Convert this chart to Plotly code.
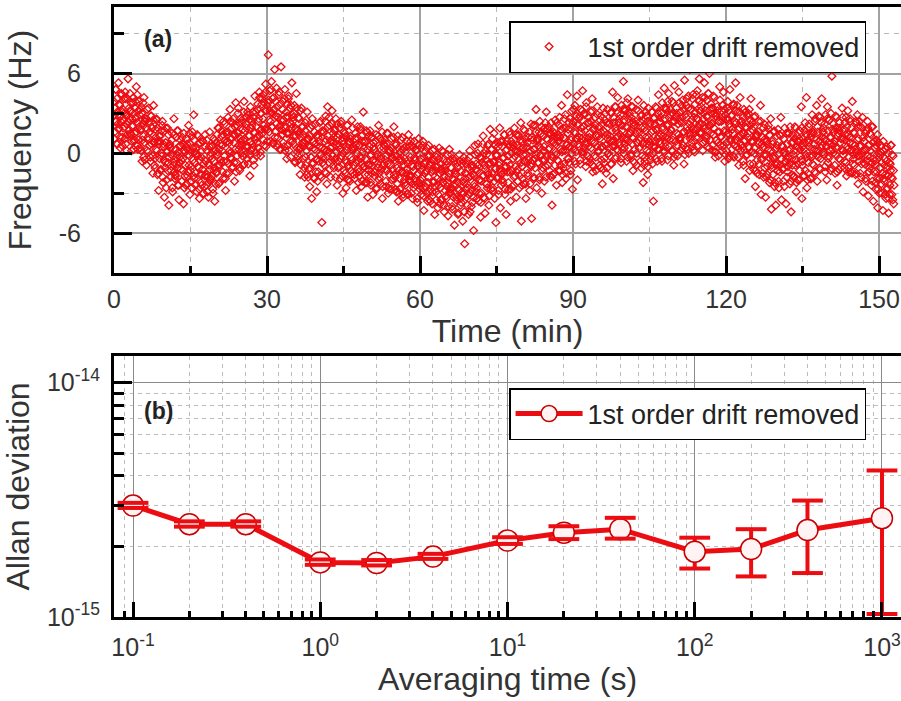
import plotly.graph_objects as go

# ---------------- Panel (a): frequency record ----------------
# Readings every 3.75 s (16 per minute); stored as two interleaved sets of 8 per minute.
sample_interval_min = 0.125
set_b_offset_min = 0.0625

freq_a_0_29 = [
    3.9, 1.6, 2.4, 4.8, 0.7, 3.1, 2.2, 5.3,
    1.9, 3.6, 0.4, 2.8, 4.4, 1.2, 3.3, 2.5,
    3.0, 1.1, 4.1, 2.2, 0.2, 2.9, 5.6, 1.7,
    2.6, 4.5, 1.4, 3.2, 0.9, 2.0, 3.8, 0.3,
    1.5, 3.4, 2.7, 5.0, 0.6, 2.3, 1.0, 3.9,
    2.9, 0.4, 1.7, 3.5, -0.6, 2.2, 1.3, 4.2,
    0.8, 2.6, 1.9, -0.9, 3.3, 1.2, 0.1, 2.4,
    1.6, -0.3, 2.8, 0.7, 1.9, -1.5, 3.6, 0.9,
    -0.4, 1.8, 0.3, 2.5, -1.6, 0.9, -2.8, 1.3,
    0.9, -1.3, 1.7, -0.2, 2.4, -2.2, 0.5, -3.3,
    -1.1, 0.8, -2.6, 0.2, 1.9, -0.7, -3.9, 0.6,
    0.4, -1.8, -0.1, 1.5, -2.9, -0.9, 2.6, -1.4,
    -1.6, 0.3, -0.8, 1.7, -2.4, 0.1, -3.5, -0.3,
    0.6, -1.2, -2.1, 1.2, -0.4, -3.8, 0.2, -1.7,
    -0.9, 1.1, -2.3, 0.3, -1.4, 2.1, -0.2, -3.1,
    0.7, -1.0, -2.6, 1.6, -0.5, 2.9, -1.9, 0.1,
    -1.5, 0.4, -2.9, -0.2, 1.3, -1.1, -3.4, 0.8,
    -2.2, -0.3, -1.6, 0.9, -3.0, -0.8, -2.5, 1.4,
    -0.6, -2.4, 0.2, -1.8, -3.3, -0.9, 1.6, -2.0,
    -1.9, 0.5, -0.4, -2.7, 1.1, -1.3, -3.6, 0.2,
    0.8, -1.4, -0.1, 1.9, -2.3, 0.3, -0.9, 2.5,
    -0.7, 1.3, 0.6, -1.9, 2.4, -0.2, 1.0, -2.8,
    1.6, -0.6, 0.9, 2.7, -1.5, 0.2, 3.3, -0.3,
    0.1, 1.9, -1.0, 2.6, 0.8, -2.1, 1.4, 3.8,
    2.1, -0.2, 1.5, 3.4, 0.3, -1.3, 2.6, 0.9,
    0.6, 2.5, 1.8, -0.9, 3.9, 1.1, -0.1, 2.2,
    1.9, -0.4, 2.9, 0.5, 1.3, -1.7, 3.5, 0.2,
    2.4, 0.7, 3.1, -0.5, 1.6, 4.3, 0.1, 2.0,
    1.2, 3.3, 0.4, 2.6, 4.6, 1.7, -0.2, 3.0,
    3.7, 1.5, 4.4, 2.1, 0.6, 3.2, 5.2, 1.9,
]
freq_a_30_59 = [
    3.6, 1.8, 7.4, 2.5, 4.7, 0.9, 3.1, 5.4,
    2.0, 4.1, 0.7, 3.3, 6.3, 1.6, 2.8, 4.9,
    3.5, 1.2, 2.7, 4.6, 0.3, 2.1, 6.5, 1.8,
    1.4, 3.9, 2.5, 0.5, 4.8, 1.9, 3.1, -0.4,
    2.8, 0.6, 4.3, 1.5, 3.4, -0.3, 2.2, 5.3,
    0.9, 2.7, 1.3, 3.6, -0.7, 1.9, 4.5, 0.4,
    1.7, -0.5, 2.6, 0.3, -1.6, 1.2, 3.4, 0.6,
    -0.4, 1.4, 0.8, -1.8, 2.3, -0.9, 0.2, 3.1,
    1.0, -1.2, 0.5, -2.5, 1.9, -0.3, -3.4, 2.6,
    -0.8, 0.9, -1.9, 0.3, 2.2, -0.5, -2.9, 1.4,
    1.2, -0.6, 0.5, -1.7, 2.4, -0.1, -5.2, 1.7,
    -0.3, 1.6, 0.9, -1.4, 2.8, 0.2, -2.3, 3.5,
    1.3, -0.7, 2.1, 0.4, -1.8, 1.0, 3.2, -0.2,
    0.8, -1.1, 1.7, -0.4, 2.6, 0.1, -2.4, 1.2,
    -0.6, 1.4, 0.3, -1.9, 2.2, -0.2, 0.9, -3.0,
    0.7, -1.3, 1.5, -0.5, -2.6, 0.2, 2.1, -1.0,
    -0.9, 0.8, -2.1, 1.3, -0.3, 2.5, -1.5, 0.4,
    0.5, -1.6, 1.1, -0.7, -2.8, 0.0, 2.0, -1.2,
    -1.4, 0.6, -0.2, 1.8, -2.5, 0.9, -0.8, 3.1,
    0.4, -1.0, -2.2, 0.9, -0.5, 1.6, -3.3, -1.6,
    -1.3, 0.5, -0.2, -2.4, 1.2, -0.9, -3.1, 0.8,
    0.3, -1.7, -0.6, 1.4, -2.6, -0.1, -1.1, 2.1,
    -1.5, 0.4, -2.3, -0.4, 1.0, -3.4, -0.9, 0.7,
    0.6, -1.2, -0.2, -2.5, 1.5, -0.8, -3.0, 0.1,
    -1.6, 0.2, -0.9, 1.1, -2.7, -0.3, -1.9, 2.0,
    -0.2, -1.8, 0.6, -2.9, -1.1, 1.3, -3.6, -0.5,
    -1.9, 0.1, -2.6, -0.6, 1.2, -1.4, -3.3, 0.4,
    -0.4, -2.2, 0.5, -1.5, -3.1, -0.8, 1.4, -2.0,
    -2.1, -0.3, -1.7, 0.6, -3.4, -1.0, -2.6, 0.9,
    -0.5, -2.4, 0.3, -1.6, -3.7, -0.9, 1.1, -2.2,
]
freq_a_60_89 = [
    -2.0, -0.4, -3.1, -1.2, 0.6, -2.6, -4.3, -0.8,
    -0.7, -2.5, -1.3, 0.4, -3.6, -1.8, -0.2, -2.9,
    -2.7, -0.9, -1.4, -3.8, 0.2, -2.2, -0.5, -4.6,
    -1.0, -2.9, -0.3, -1.9, -4.1, -2.4, 0.4, -1.5,
    -2.6, -0.8, -3.5, -1.4, 0.1, -2.2, -4.4, -1.1,
    -1.3, -3.2, -0.6, -2.5, -4.7, -1.8, 0.3, -2.9,
    -3.0, -1.1, -2.6, -4.2, -0.4, -2.0, -5.4, -1.5,
    -1.6, -3.5, -2.1, -0.7, -4.5, -2.8, -0.1, -3.3,
    -3.4, -1.4, -2.9, -5.1, -0.6, -2.2, -6.8, -1.9,
    -1.5, -3.3, -0.5, -2.6, -4.6, -1.8, 0.2, -3.0,
    -2.8, -0.9, -3.7, -1.6, -5.8, -2.3, 0.6, -1.2,
    -0.8, -2.6, -1.3, 0.7, -3.6, -2.0, -0.3, -4.8,
    -2.1, -0.4, -1.7, 1.3, -3.3, -0.9, -4.5, 0.2,
    -0.5, -2.3, 0.6, -1.6, -3.9, -0.8, 1.8, -2.7,
    -1.8, 0.3, -2.6, -0.6, 1.5, -3.4, -1.2, -5.2,
    -0.2, -1.9, 0.8, -2.8, -0.9, 1.9, -4.1, -1.4,
    -1.6, 0.5, -2.2, -0.3, 1.4, -3.1, -1.0, -4.6,
    0.3, -1.4, -0.2, -2.7, 1.6, -0.9, -3.6, 0.9,
    -1.3, 0.7, -0.4, -2.4, 1.9, -1.7, 0.2, -3.3,
    0.6, -1.2, 1.4, -0.5, -2.6, 0.1, 2.3, -5.1,
    -1.0, 0.9, -0.1, -2.3, 1.7, -0.6, -3.4, 0.4,
    0.5, -1.5, 1.2, -0.3, -2.8, -0.9, 2.2, -4.9,
    -0.8, 1.0, 0.3, -1.9, 2.1, -0.4, 3.3, -2.6,
    1.1, -0.7, 0.6, -1.8, 2.4, -0.2, 1.5, -3.0,
    -0.5, 1.3, 0.2, -2.1, 1.9, -1.0, 3.1, -0.3,
    1.0, -0.9, 2.0, 0.4, -1.7, 1.5, -0.2, -3.9,
    -0.3, 1.6, 0.8, -1.5, 2.5, 0.1, -2.4, 1.2,
    1.4, -0.6, 0.9, 2.7, -1.3, 0.3, 3.6, -2.2,
    0.2, 1.9, -0.8, 1.1, 2.9, -1.9, 0.6, 4.4,
    1.5, -0.4, 2.3, 0.5, -1.6, 1.0, 3.2, -2.7,
]
freq_a_90_119 = [
    2.4, 0.3, 1.6, 3.6, -0.8, 1.1, 4.3, -2.0,
    0.7, 2.6, 1.2, -0.5, 3.3, 1.9, 0.1, 4.7,
    2.0, 0.4, 2.9, 1.1, -1.0, 3.8, 0.8, -0.2,
    0.5, 2.3, 1.5, -0.7, 3.1, 0.9, 4.1, -1.4,
    1.8, -0.2, 0.8, 2.7, -1.3, 1.3, 3.5, 0.1,
    0.2, 2.0, 1.1, -1.1, 2.8, 0.5, -2.3, 3.4,
    1.7, -0.4, 2.5, 0.6, -1.5, 1.4, 3.3, 0.0,
    0.4, 2.2, 1.3, -0.8, 3.0, 0.9, 4.6, -1.9,
    2.3, 0.6, 1.9, 3.5, -0.3, 1.2, 4.2, 0.2,
    0.8, 2.6, 1.4, -0.4, 3.6, 2.1, 0.3, 5.4,
    2.5, 0.7, 3.2, 1.1, -0.6, 2.0, 4.1, 0.4,
    0.9, 2.8, 1.6, -0.2, 3.5, 1.2, -1.3, 2.3,
    2.1, 0.3, 1.5, 3.3, -0.9, 0.8, 4.0, 1.0,
    0.4, 2.4, 1.1, -1.1, 2.9, 0.7, -2.2, 3.6,
    1.9, -0.3, 1.2, 2.8, 0.2, -1.6, 3.4, 0.9,
    0.6, 2.2, -0.5, 1.6, 3.1, 0.0, -3.6, 2.6,
    2.2, 0.5, 1.8, 3.4, -0.6, 1.1, 4.4, 0.3,
    0.9, 2.7, 1.4, -0.4, 3.8, 2.0, 0.2, 4.9,
    2.6, 0.8, 3.3, 1.3, -0.5, 2.1, 4.5, 0.5,
    1.0, 2.9, 1.7, 3.9, 0.2, 2.4, -0.9, 5.1,
    2.7, 0.9, 3.4, 1.5, -0.2, 2.2, 4.6, 1.1,
    1.2, 3.1, 2.3, 0.4, 4.0, 1.6, -0.8, 5.5,
    2.9, 1.0, 3.6, 2.0, 0.3, 4.3, 1.5, 6.3,
    1.4, 3.3, 2.5, 0.5, 4.4, 1.8, 3.0, 0.1,
    3.1, 1.2, 2.6, 4.7, 0.6, 2.0, 5.6, 1.5,
    1.6, 3.5, 2.2, 4.2, 0.8, 3.0, 5.3, 1.9,
    3.2, 1.3, 2.8, 0.5, 4.5, 2.1, 6.0, 1.0,
    1.5, 3.4, 2.3, 0.2, 4.3, 1.9, 3.0, -0.3,
    2.8, 1.0, 3.5, 1.6, -0.2, 2.4, 5.0, 0.6,
    1.3, 3.2, 0.5, 2.5, 4.6, 1.7, -0.6, 2.9,
]
freq_a_120_152 = [
    2.6, 0.8, 3.4, 1.5, -0.4, 2.2, 4.8, 1.1,
    1.0, 2.9, 1.8, -0.2, 3.7, 0.6, 2.4, 5.3,
    2.3, 0.5, 3.1, 1.2, -0.9, 1.9, 4.2, 0.2,
    0.6, 2.4, 1.5, -0.6, 3.3, 0.9, -1.9, 2.0,
    1.9, -0.1, 1.2, 3.0, 0.4, -1.3, 2.5, 4.1,
    0.1, 1.8, 0.9, -1.2, 2.7, 0.4, -2.5, 1.3,
    1.3, -0.5, 0.7, 2.4, -1.6, 0.2, 3.6, -3.1,
    -0.5, 1.2, 0.4, -1.8, 2.2, -0.2, -3.3, 1.0,
    0.9, -1.0, 0.3, 1.8, -2.2, -0.4, 2.6, -4.2,
    -1.1, 0.7, -0.3, 1.6, -2.5, -0.8, -3.9, 0.4,
    0.6, -1.3, -0.1, -2.6, 1.4, -0.9, 2.7, -3.5,
    -1.2, 0.5, -2.1, 0.1, 1.9, -0.7, -3.8, -0.4,
    0.7, -1.0, -0.3, 1.5, -2.3, 0.3, -4.4, -1.6,
    -0.9, 0.8, -1.8, 0.2, 2.0, -0.5, -2.9, 1.3,
    0.9, -0.8, 0.4, -2.0, 1.7, -0.2, 3.5, -3.4,
    -0.6, 1.1, 0.3, -1.7, 2.3, -0.1, 4.2, -2.6,
    1.0, -0.7, 2.0, 0.5, -1.9, 1.3, -0.3, 2.9,
    -0.2, 1.5, 0.7, -1.4, 2.6, 0.2, 3.6, -2.1,
    1.6, -0.3, 0.9, 2.7, -1.2, 0.4, 4.1, 1.2,
    0.1, 1.9, 1.1, -1.0, 2.9, 0.6, -2.0, 3.5,
    1.7, -0.2, 2.5, 0.7, -1.3, 1.2, 5.8, 0.3,
    0.0, 1.6, 0.9, -1.5, 2.8, 0.4, -2.4, 1.9,
    1.5, -0.4, 2.3, 0.8, -1.1, 1.1, 3.4, 0.2,
    0.2, 1.8, -0.6, 1.0, 2.7, -1.7, 0.5, 3.2,
    1.4, -0.3, 0.8, 2.4, -1.4, 0.3, 3.9, -0.8,
    -0.1, 1.5, 0.6, -1.6, 2.3, 0.0, 2.9, -2.3,
    1.1, -0.6, 0.5, 2.0, -1.8, -0.1, 2.7, -2.9,
    -0.7, 0.9, 0.2, -1.9, 1.7, -0.5, 2.4, -3.2,
    0.6, -1.1, -0.3, 1.4, -2.4, -0.7, 2.0, -3.6,
    -1.4, 0.4, -0.8, -2.7, 1.0, -1.9, -4.1, 0.8,
    -0.3, -1.9, -1.1, 0.6, -3.0, -1.5, -4.3, 0.2,
    -2.1, -0.4, -1.6, -3.4, 0.5, -2.6, -1.0, -4.5,
    -0.7, -2.4, -1.3, 0.6, -3.1, -1.9, -0.2, -3.8,
]

freq_b_0_29 = [
    1.1, 3.4, 4.8, 2.4, 4.1, 0.7, 2.9, 1.8,
    3.7, 1.2, 2.4, 4.5, 0.6, 3.1, 1.9, 4.1,
    2.0, 4.6, 0.7, 2.8, 1.4, 4.1, 2.4, 3.4,
    3.2, 1.5, 3.8, 0.2, 2.6, 2.1, 4.2, 0.9,
    1.0, 3.9, 2.6, 1.6, 4.4, 0.3, 3.2, 2.0,
    3.3, 1.8, 0.2, 3.0, 1.0, 3.8, -0.3, 2.4,
    -0.5, 2.4, 2.6, 0.2, 1.8, 1.0, 3.4, 0.6,
    1.6, -0.6, 2.8, 1.9, -0.2, 2.5, 0.8, -0.9,
    -1.1, 1.2, 2.6, 0.2, 1.9, -1.5, 0.7, -0.4,
    1.3, -1.2, 0.0, 2.1, -1.8, 0.7, -0.5, 1.7,
    -0.7, 1.9, -2.0, 0.1, -1.3, 1.4, -0.3, 0.7,
    0.4, -1.3, 1.0, -2.6, -0.2, -0.7, 1.4, -1.9,
    -1.7, 1.2, -0.1, -1.1, 1.7, -2.4, 0.5, -0.7,
    1.0, -0.5, -2.1, 0.7, -1.3, 1.5, -2.6, 0.1,
    -2.4, 0.5, 0.7, -1.7, -0.1, -0.9, 1.5, -1.3,
    0.1, -2.1, 1.3, 0.4, -1.7, 1.0, -0.7, -2.4,
    -2.3, 0.0, 1.4, -1.0, 0.7, -2.7, -0.5, -1.6,
    0.1, -2.4, -1.2, 0.9, -3.0, -0.5, -1.7, 0.5,
    -1.6, 1.0, -2.9, -0.8, -2.2, 0.5, -1.2, -0.2,
    0.0, -1.7, 0.6, -3.0, -0.6, -1.1, 1.0, -2.3,
    -1.5, 1.4, 0.1, -0.9, 1.9, -2.2, 0.7, -0.5,
    1.7, 0.2, -1.4, 1.4, -0.6, 2.2, -1.9, 0.8,
    -1.5, 1.4, 1.6, -0.8, 0.8, 0.0, 2.4, -0.4,
    1.1, -1.1, 2.3, 1.4, -0.7, 2.0, 0.3, -1.4,
    -0.7, 1.6, 3.0, 0.6, 2.3, -1.1, 1.1, 0.0,
    2.3, -0.2, 1.0, 3.1, -0.8, 1.7, 0.5, 2.7,
    0.5, 3.1, -0.8, 1.3, -0.1, 2.6, 0.9, 1.9,
    2.1, 0.4, 2.7, -0.9, 1.5, 1.0, 3.1, -0.2,
    0.8, 3.7, 2.4, 1.4, 4.2, 0.1, 3.0, 1.8,
    4.1, 2.6, 1.0, 3.8, 1.8, 4.6, 0.5, 3.2,
]
freq_b_30_59 = [
    0.9, 3.8, 4.0, 1.6, 3.2, 2.4, 4.8, 2.0,
    3.0, 0.8, 4.2, 3.3, 1.2, 3.9, 2.2, 0.5,
    0.7, 3.0, 4.4, 2.0, 3.7, 0.3, 2.5, 1.4,
    3.3, 0.8, 2.0, 4.1, 0.2, 2.7, 1.5, 3.7,
    1.5, 4.1, 0.2, 2.3, 0.9, 3.6, 1.9, 2.9,
    2.4, 0.7, 3.0, -0.6, 1.8, 1.3, 3.4, 0.1,
    -0.2, 2.7, 1.4, 0.4, 3.2, -0.9, 2.0, 0.8,
    2.0, 0.5, -1.1, 1.7, -0.3, 2.5, -1.6, 1.1,
    -1.8, 1.1, 1.3, -1.1, 0.5, -0.3, 2.1, -0.7,
    0.4, -1.8, 1.6, 0.7, -1.4, 1.3, -0.4, -2.1,
    -1.4, 0.9, 2.3, -0.1, 1.6, -1.8, 0.4, -0.7,
    1.6, -0.9, 0.3, 2.4, -1.5, 1.0, -0.2, 2.0,
    0.1, 2.7, -1.2, 0.9, -0.5, 2.2, 0.5, 1.5,
    1.2, -0.5, 1.8, -1.8, 0.6, 0.1, 2.2, -1.1,
    -1.0, 1.9, 0.6, -0.4, 2.4, -1.7, 1.2, 0.0,
    1.6, 0.1, -1.5, 1.3, -0.7, 2.1, -2.0, 0.7,
    -2.0, 0.9, 1.1, -1.3, 0.3, -0.5, 1.9, -0.9,
    0.3, -1.9, 1.5, 0.6, -1.5, 1.2, -0.5, -2.2,
    -1.7, 0.6, 2.0, -0.4, 1.3, -2.1, 0.1, -1.0,
    0.9, -1.6, -0.4, 1.7, -2.2, 0.3, -0.9, 1.3,
    -0.9, 1.7, -2.2, -0.1, -1.5, 1.2, -0.5, 0.5,
    0.3, -1.4, 0.9, -2.7, -0.3, -0.8, 1.3, -2.0,
    -1.8, 1.1, -0.2, -1.2, 1.6, -2.5, 0.4, -0.8,
    1.0, -0.5, -2.1, 0.7, -1.3, 1.5, -2.6, 0.1,
    -2.7, 0.2, 0.4, -2.0, -0.4, -1.2, 1.2, -1.6,
    -0.5, -2.7, 0.7, -0.2, -2.3, 0.4, -1.3, -3.0,
    -2.7, -0.4, 1.0, -1.4, 0.3, -3.1, -0.9, -2.0,
    0.1, -2.4, -1.2, 0.9, -3.0, -0.5, -1.7, 0.5,
    -1.7, 0.9, -3.0, -0.9, -2.3, 0.4, -1.3, -0.3,
    -0.4, -2.1, 0.2, -3.4, -1.0, -1.5, 0.6, -2.7,
]
freq_b_60_89 = [
    -2.5, 0.4, -0.9, -1.9, 0.9, -3.2, -0.3, -1.5,
    0.1, -1.4, -3.0, -0.2, -2.2, 0.6, -3.5, -0.8,
    -3.6, -0.7, -0.5, -2.9, -1.3, -2.1, 0.3, -2.5,
    -1.3, -3.5, -0.1, -1.0, -3.1, -0.4, -2.1, -3.8,
    -3.5, -1.2, 0.2, -2.2, -0.5, -3.9, -1.7, -2.8,
    -0.9, -3.4, -2.2, -0.1, -4.0, -1.5, -2.7, -0.5,
    -2.7, -0.1, -4.0, -1.9, -3.3, -0.6, -2.3, -1.3,
    -1.6, -3.3, -1.0, -4.6, -2.2, -2.7, -0.6, -3.9,
    -3.7, -0.8, -2.1, -3.1, -0.3, -4.4, -1.5, -2.7,
    -0.8, -2.3, -3.9, -1.1, -3.1, -0.3, -4.4, -1.7,
    -4.0, -1.1, -0.9, -3.3, -1.7, -2.5, -0.1, -2.9,
    -1.2, -3.4, 0.0, -0.9, -3.0, -0.3, -2.0, -3.7,
    -3.0, -0.7, 0.7, -1.7, 0.0, -3.4, -1.2, -2.3,
    -0.1, -2.6, -1.4, 0.7, -3.2, -0.7, -1.9, 0.3,
    -1.5, 1.1, -2.8, -0.7, -2.1, 0.6, -1.1, -0.1,
    -0.1, -1.8, 0.5, -3.1, -0.7, -1.2, 0.9, -2.4,
    -2.0, 0.9, -0.4, -1.4, 1.4, -2.7, 0.2, -1.0,
    0.9, -0.6, -2.2, 0.6, -1.4, 1.4, -2.7, 0.0,
    -2.5, 0.4, 0.6, -1.8, -0.2, -1.0, 1.4, -1.4,
    0.1, -2.1, 1.3, 0.4, -1.7, 1.0, -0.7, -2.4,
    -1.9, 0.4, 1.8, -0.6, 1.1, -2.3, -0.1, -1.2,
    0.8, -1.7, -0.5, 1.6, -2.3, 0.2, -1.0, 1.2,
    -0.5, 2.1, -1.8, 0.3, -1.1, 1.6, -0.1, 0.9,
    1.0, -0.7, 1.6, -2.0, 0.4, -0.1, 2.0, -1.3,
    -1.1, 1.8, 0.5, -0.5, 2.3, -1.8, 1.1, -0.1,
    1.8, 0.3, -1.3, 1.5, -0.5, 2.3, -1.8, 0.9,
    -1.6, 1.3, 1.5, -0.9, 0.7, -0.1, 2.3, -0.5,
    0.9, -1.3, 2.1, 1.2, -0.9, 1.8, 0.1, -1.6,
    -1.1, 1.2, 2.6, 0.2, 1.9, -1.5, 0.7, -0.4,
    1.8, -0.7, 0.5, 2.6, -1.3, 1.2, 0.0, 2.2,
]
freq_b_90_119 = [
    0.7, 3.3, -0.6, 1.5, 0.1, 2.8, 1.1, 2.1,
    2.2, 0.5, 2.8, -0.8, 1.6, 1.1, 3.2, -0.1,
    0.1, 3.0, 1.7, 0.7, 3.5, -0.6, 2.3, 1.1,
    2.7, 1.2, -0.4, 2.4, 0.4, 3.2, -0.9, 1.8,
    -1.0, 1.9, 2.1, -0.3, 1.3, 0.5, 2.9, 0.1,
    1.3, -0.9, 2.5, 1.6, -0.5, 2.2, 0.5, -1.2,
    -0.7, 1.6, 3.0, 0.6, 2.3, -1.1, 1.1, 0.0,
    2.3, -0.2, 1.0, 3.1, -0.8, 1.7, 0.5, 2.7,
    0.9, 3.5, -0.4, 1.7, 0.3, 3.0, 1.3, 2.3,
    2.3, 0.6, 2.9, -0.7, 1.7, 1.2, 3.3, 0.0,
    0.4, 3.3, 2.0, 1.0, 3.8, -0.3, 2.6, 1.4,
    3.0, 1.5, -0.1, 2.7, 0.7, 3.5, -0.6, 2.1,
    -0.7, 2.2, 2.4, 0.0, 1.6, 0.8, 3.2, 0.4,
    1.6, -0.6, 2.8, 1.9, -0.2, 2.5, 0.8, -0.9,
    -0.6, 1.7, 3.1, 0.7, 2.4, -1.0, 1.2, 0.1,
    2.3, -0.2, 1.0, 3.1, -0.8, 1.7, 0.5, 2.7,
    0.9, 3.5, -0.4, 1.7, 0.3, 3.0, 1.3, 2.3,
    2.4, 0.7, 3.0, -0.6, 1.8, 1.3, 3.4, 0.1,
    0.5, 3.4, 2.1, 1.1, 3.9, -0.2, 2.7, 1.5,
    3.3, 1.8, 0.2, 3.0, 1.0, 3.8, -0.3, 2.4,
    -0.1, 2.8, 3.0, 0.6, 2.2, 1.4, 3.8, 1.0,
    2.4, 0.2, 3.6, 2.7, 0.6, 3.3, 1.6, -0.1,
    0.4, 2.7, 4.1, 1.7, 3.4, 0.0, 2.2, 1.1,
    3.3, 0.8, 2.0, 4.1, 0.2, 2.7, 1.5, 3.7,
    1.8, 4.4, 0.5, 2.6, 1.2, 3.9, 2.2, 3.2,
    3.2, 1.5, 3.8, 0.2, 2.6, 2.1, 4.2, 0.9,
    1.1, 4.0, 2.7, 1.7, 4.5, 0.4, 3.3, 2.1,
    3.7, 2.2, 0.6, 3.4, 1.4, 4.2, 0.1, 2.8,
    0.1, 3.0, 3.2, 0.8, 2.4, 1.6, 4.0, 1.2,
    2.4, 0.2, 3.6, 2.7, 0.6, 3.3, 1.6, -0.1,
]
freq_b_120_152 = [
    0.2, 2.5, 3.9, 1.5, 3.2, -0.2, 2.0, 0.9,
    2.8, 0.3, 1.5, 3.6, -0.3, 2.2, 1.0, 3.2,
    1.0, 3.6, -0.3, 1.8, 0.4, 3.1, 1.4, 2.4,
    2.1, 0.4, 2.7, -0.9, 1.5, 1.0, 3.1, -0.2,
    -0.1, 2.8, 1.5, 0.5, 3.3, -0.8, 2.1, 0.9,
    2.3, 0.8, -0.8, 2.0, 0.0, 2.8, -1.3, 1.4,
    -1.5, 1.4, 1.6, -0.8, 0.8, 0.0, 2.4, -0.4,
    0.7, -1.5, 1.9, 1.0, -1.1, 1.6, -0.1, -1.8,
    -1.6, 0.7, 2.1, -0.3, 1.4, -2.0, 0.2, -0.9,
    0.9, -1.6, -0.4, 1.7, -2.2, 0.3, -0.9, 1.3,
    -0.8, 1.8, -2.1, 0.0, -1.4, 1.3, -0.4, 0.6,
    0.5, -1.2, 1.1, -2.5, -0.1, -0.6, 1.5, -1.8,
    -1.4, 1.5, 0.2, -0.8, 2.0, -2.1, 0.8, -0.4,
    1.4, -0.1, -1.7, 1.1, -0.9, 1.9, -2.2, 0.5,
    -2.0, 0.9, 1.1, -1.3, 0.3, -0.5, 1.9, -0.9,
    0.5, -1.7, 1.7, 0.8, -1.3, 1.4, -0.3, -2.0,
    -1.5, 0.8, 2.2, -0.2, 1.5, -1.9, 0.3, -0.8,
    1.6, -0.9, 0.3, 2.4, -1.5, 1.0, -0.2, 2.0,
    0.2, 2.8, -1.1, 1.0, -0.4, 2.3, 0.6, 1.6,
    1.6, -0.1, 2.2, -1.4, 1.0, 0.5, 2.6, -0.7,
    -0.4, 2.5, 1.2, 0.2, 3.0, -1.1, 1.8, 0.6,
    2.2, 0.7, -0.9, 1.9, -0.1, 2.7, -1.4, 1.3,
    -1.2, 1.7, 1.9, -0.5, 1.1, 0.3, 2.7, -0.1,
    1.1, -1.1, 2.3, 1.4, -0.7, 2.0, 0.3, -1.4,
    -1.1, 1.2, 2.6, 0.2, 1.9, -1.5, 0.7, -0.4,
    1.6, -0.9, 0.3, 2.4, -1.5, 1.0, -0.2, 2.0,
    -0.2, 2.4, -1.5, 0.6, -0.8, 1.9, 0.2, 1.2,
    0.9, -0.8, 1.5, -2.1, 0.3, -0.2, 1.9, -1.4,
    -1.4, 1.5, 0.2, -0.8, 2.0, -2.1, 0.8, -0.4,
    0.9, -0.6, -2.2, 0.6, -1.4, 1.4, -2.7, 0.0,
    -3.0, -0.1, 0.1, -2.3, -0.7, -1.5, 0.9, -1.9,
    -0.9, -3.1, 0.3, -0.6, -2.7, 0.0, -1.7, -3.4,
    -3.1, -0.8, 0.6, -1.8, -0.1, -3.5, -1.3, -2.4,
]

freq_a = freq_a_0_29 + freq_a_30_59 + freq_a_60_89 + freq_a_90_119 + freq_a_120_152
freq_b = freq_b_0_29 + freq_b_30_59 + freq_b_60_89 + freq_b_90_119 + freq_b_120_152
time_a = [i * sample_interval_min for i in range(len(freq_a))]
time_b = [i * sample_interval_min + set_b_offset_min for i in range(len(freq_b))]
time_min = time_a + time_b
freq_hz = freq_a + freq_b

time_ticks = [0, 30, 60, 90, 120, 150]
time_minor = [15, 45, 75, 105, 135]
freq_ticks = [-6, 0, 6]
freq_tick_text = ["-6", "0", "6"]
freq_minor = [-9, -3, 3, 9]

# ---------------- Panel (b): Allan deviation ----------------
tau_s = [0.1, 0.2, 0.4, 1, 2, 4, 10, 20, 40, 100, 200, 400, 1000]
adev = [2.99e-15, 2.49e-15, 2.49e-15, 1.71e-15, 1.70e-15, 1.81e-15, 2.12e-15,
        2.29e-15, 2.37e-15, 1.90e-15, 1.95e-15, 2.35e-15, 2.64e-15]
adev_upper = [3.07e-15, 2.56e-15, 2.56e-15, 1.76e-15, 1.75e-15, 1.86e-15, 2.19e-15,
              2.44e-15, 2.65e-15, 2.18e-15, 2.37e-15, 3.14e-15, 4.22e-15]
adev_lower = [2.92e-15, 2.43e-15, 2.43e-15, 1.67e-15, 1.66e-15, 1.77e-15, 2.05e-15,
              2.15e-15, 2.16e-15, 1.61e-15, 1.49e-15, 1.54e-15, 1.03e-15]

tau_ticks = [0.1, 1, 10, 100, 1000]
tau_tick_text = ["10<sup>-1</sup>", "10<sup>0</sup>", "10<sup>1</sup>", "10<sup>2</sup>", "10<sup>3</sup>"]
tau_minor = [0.09] + [m * d for d in (0.1, 1, 10, 100) for m in range(2, 10)]
adev_ticks = [1e-15, 1e-14]
adev_tick_text = ["10<sup>-15</sup>", "10<sup>-14</sup>"]
adev_minor = [m * 1e-15 for m in range(2, 10)]

series_name = "1st order drift removed"

# ---------------- styling ----------------
RED = "#ec0d12"
FONT = "Liberation Sans, Arial, sans-serif"
TXT = "#333333"
TICKFONT = dict(family=FONT, size=25, color=TXT)
TITLEFONT = dict(family=FONT, size=32, color=TXT)
LEGFONT = dict(family=FONT, size=27, color="#222222")

err_plus = [u - v for u, v in zip(adev_upper, adev)]
err_minus = [v - l for v, l in zip(adev, adev_lower)]

fig = go.Figure()

fig.add_trace(go.Scatter(
    x=time_min, y=freq_hz, mode="markers", name=series_name,
    marker=dict(symbol="diamond-open", size=6, color=RED, line=dict(width=1.3, color=RED)),
    xaxis="x", yaxis="y", legend="legend", showlegend=True,
))

# Allan deviation: bars (under the symbols), line and symbols
fig.add_trace(go.Scatter(
    x=tau_s, y=adev, mode="lines+markers", name=series_name,
    line=dict(color=RED, width=5),
    marker=dict(symbol="circle", size=21, color="#fff3f3", line=dict(color="#c80000", width=1.5)),
    error_y=dict(type="data", symmetric=False, array=err_plus, arrayminus=err_minus,
                 color=RED, thickness=4, width=0),
    xaxis="x2", yaxis="y2", legend="legend2", showlegend=True,
))
# error-bar caps drawn on top of the symbols, at the bar ends
fig.add_trace(go.Scatter(
    x=tau_s + tau_s, y=adev_upper + adev_lower, mode="markers", name=series_name,
    marker=dict(symbol="line-ew", size=22, color=RED, line=dict(color=RED, width=4)),
    xaxis="x2", yaxis="y2", showlegend=False, hoverinfo="skip",
))

common_axis = dict(showline=True, linewidth=3, linecolor="black", mirror=True,
                   ticks="inside", tickwidth=3, tickcolor="black", zeroline=False,
                   automargin=False, tickfont=TICKFONT, tickmode="array")

fig.update_layout(
    width=901, height=701, template="none", showlegend=True,
    paper_bgcolor="white", plot_bgcolor="white",
    margin=dict(l=114, r=0, t=7, b=84),
    xaxis=dict(common_axis, domain=[0, 1], anchor="y", range=[0, 154.3],
               tickvals=time_ticks, ticktext=[str(v) for v in time_ticks], ticklen=17,
               showgrid=True, gridcolor="#a2a2a2", gridwidth=1.5,
               minor=dict(tickvals=time_minor, ticks="inside", ticklen=7, tickwidth=3, tickcolor="black",
                          showgrid=True, gridcolor="#b8b8b8", gridwidth=1, griddash="5px,5px"),
               ticklabelstandoff=2,
               title=dict(text="Time (min)", font=TITLEFONT, standoff=2)),
    yaxis=dict(common_axis, domain=[0.5639, 1.0], anchor="x", range=[-9, 11],
               tickvals=freq_ticks, ticktext=freq_tick_text, ticklen=18,
               showgrid=True, gridcolor="#a2a2a2", gridwidth=1.5,
               minor=dict(tickvals=freq_minor, ticks="inside", ticklen=10, tickwidth=3, tickcolor="black",
                          showgrid=True, gridcolor="#b8b8b8", gridwidth=1, griddash="5px,5px"),
               ticklabelstandoff=25,
               title=dict(text="Frequency (Hz)", font=TITLEFONT, standoff=18)),
    xaxis2=dict(common_axis, domain=[0, 1], anchor="y2", type="log", range=[-1.1015, 3.1015],
                tickvals=tau_ticks, ticktext=tau_tick_text, ticklen=15,
                showgrid=True, gridcolor="#8a8a8a", gridwidth=1,
                minor=dict(tickvals=tau_minor, ticks="inside", ticklen=6, tickwidth=3, tickcolor="black",
                           showgrid=True, gridcolor="#bcbcbc", gridwidth=1, griddash="4px,4px"),
                ticklabelstandoff=6,
                title=dict(text="Averaging time (s)", font=TITLEFONT, standoff=4)),
    yaxis2=dict(common_axis, domain=[0, 0.4279], anchor="x2", type="log", range=[-15, -13.886],
                tickvals=adev_ticks, ticktext=adev_tick_text, ticklen=18,
                showgrid=True, gridcolor="#8a8a8a", gridwidth=1,
                minor=dict(tickvals=adev_minor, ticks="inside", ticklen=10, tickwidth=3, tickcolor="black",
                           showgrid=True, gridcolor="#bcbcbc", gridwidth=1, griddash="4px,4px"),
                ticklabelstandoff=6,
                title=dict(text="Allan deviation", font=TITLEFONT, standoff=12)),
    legend=dict(x=0.502, y=0.977, xanchor="left", yanchor="top", bgcolor="white",
                bordercolor="black", borderwidth=1.5, font=LEGFONT, itemwidth=67),
    legend2=dict(x=0.502, y=0.3754, xanchor="left", yanchor="top", bgcolor="white",
                 bordercolor="black", borderwidth=1.5, font=LEGFONT, itemwidth=67),
    annotations=[
        dict(text="<b>(a)</b>", xref="paper", yref="paper", x=0.0565, y=0.9475,
             xanchor="center", yanchor="middle", showarrow=False,
             font=dict(family=FONT, size=23, color="#222222")),
        dict(text="<b>(b)</b>", xref="paper", yref="paper", x=0.0565, y=0.3377,
             xanchor="center", yanchor="middle", showarrow=False,
             font=dict(family=FONT, size=23, color="#222222")),
    ],
)

fig.write_html("out.html", config={"displayModeBar": False},
               post_script="document.body.style.margin='0px';")
